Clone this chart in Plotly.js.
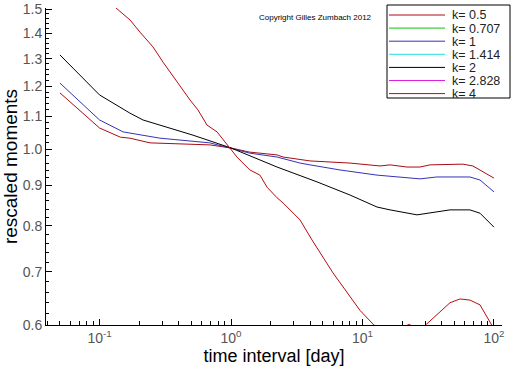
<!DOCTYPE html>
<html>
<head>
<meta charset="utf-8">
<script src="https://cdn.plot.ly/plotly-3.0.1.min.js"></script>
<style>html,body{margin:0;padding:0;background:#fff;}#chart{width:512px;height:366px;}</style>
</head>
<body>
<div id="chart"></div>
<script>
// ---- data ----
const seriesNames = ["k=0.5", "k=0.707", "k=1", "k=1.414", "k=2", "k=2.828", "k=4"];
const seriesColors = ["#a80c14", "#10c010", "#3333b8", "#20e0e0", "#000000", "#e020e0", "#b80c10"];

const t_k05 = [0.05, 0.1, 0.144, 0.17, 0.242, 0.514, 0.69, 1, 1.39, 2.24, 2.49, 3.99, 8.03, 13.6, 16.2, 21.8, 27.4, 32.6, 57.9, 69.1, 100];
const m_k05 = [1.177, 1.063, 1.035, 1.032, 1.018, 1.015, 1.012, 1.003, 0.991, 0.983, 0.977, 0.966, 0.960, 0.952, 0.955, 0.949, 0.949, 0.955, 0.957, 0.952, 0.919];

const t_k0707 = [];
const m_k0707 = [];

const t_k1 = [0.05, 0.1, 0.151, 0.288, 0.69, 1, 1.39, 2.24, 3.35, 3.99, 6.74, 12.9, 27.4, 36.7, 65.6, 78.3, 100];
const m_k1 = [1.211, 1.088, 1.051, 1.032, 1.018, 1.003, 0.988, 0.977, 0.960, 0.955, 0.941, 0.927, 0.917, 0.922, 0.922, 0.914, 0.883];

const t_k1414 = [];
const m_k1414 = [];

const t_k2 = [0.05, 0.1, 0.17, 0.214, 0.514, 1, 2.24, 4.51, 8.03, 12.9, 16.2, 26, 46.3, 65.6, 78.3, 100];
const m_k2 = [1.314, 1.170, 1.110, 1.088, 1.041, 1.003, 0.949, 0.909, 0.875, 0.845, 0.838, 0.826, 0.838, 0.838, 0.830, 0.797];

const t_k2828 = [];
const m_k2828 = [];

const t_k4 = [0.05, 0.1, 0.131, 0.171, 0.203, 0.255, 0.304, 0.356, 0.41, 0.488, 0.561, 0.657, 0.783, 0.932, 1.11, 1.39, 1.66, 1.88, 2.24, 2.49, 3.35, 4.13, 5.96, 9.57, 12.2, 16, 22.6, 27, 30.9, 46.3, 55.1, 65.6, 78.3, 96, 100];
const m_k4 = [1.9, 1.62, 1.51, 1.454, 1.404, 1.345, 1.287, 1.240, 1.197, 1.153, 1.120, 1.072, 1.051, 1.012, 0.977, 0.941, 0.927, 0.895, 0.868, 0.855, 0.814, 0.768, 0.698, 0.626, 0.600, 0.585, 0.601, 0.592, 0.602, 0.640, 0.647, 0.645, 0.636, 0.600, 0.595];

const xTickVals = [0.1, 1, 10, 100];
const xTickText = ["10<sup>-1</sup>", "10<sup>0</sup>", "10<sup>1</sup>", "10<sup>2</sup>"];
const yTickVals = [0.6, 0.7, 0.8, 0.9, 1.0, 1.1, 1.2, 1.3, 1.4, 1.5];
const yTickText = ["0.6", "0.7", "0.8", "0.9", "1.0", "1.1", "1.2", "1.3", "1.4", "1.5"];

const xs = [t_k05, t_k0707, t_k1, t_k1414, t_k2, t_k2828, t_k4];
const ys = [m_k05, m_k0707, m_k1, m_k1414, m_k2, m_k2828, m_k4];

// ---- build ----
const traces = seriesNames.map((n, i) => ({
  x: xs[i], y: ys[i], name: n, type: "scatter", mode: "lines",
  line: {color: seriesColors[i], width: 1}, showlegend: false, cliponaxis: true
}));

// minor ticks
const xMinor = [];
for (let d = -2; d <= 2; d++) for (let m = 2; m <= 9; m++) xMinor.push(m * Math.pow(10, d));
const yMinor = [];
for (let v = 0.52; v < 1.6; v += 0.02) { const r = Math.round(v * 100) / 100; if (Math.round(r * 100) % 10 !== 0) yMinor.push(r); }

// plot area in pixels
const W = 512, H = 366, L = 46, R = 10, T = 8, B = 41;
const pw = W - L - R, ph = H - T - B;
const px = x => (x - L) / pw;
const py = y => (H - B - y) / ph;

const shapes = [{type: "rect", xref: "paper", yref: "paper", x0: px(387), x1: px(510), y0: py(5), y1: py(98),
  line: {color: "#000", width: 1}, fillcolor: "rgba(0,0,0,0)"}];
const annotations = [];
seriesNames.forEach((n, i) => {
  const yy = 15 + i * 13.1;
  shapes.push({type: "line", xref: "paper", yref: "paper", x0: px(389), x1: px(445), y0: py(yy), y1: py(yy),
    line: {color: seriesColors[i], width: 1}});
  annotations.push({xref: "paper", yref: "paper", x: px(451), y: py(yy), xanchor: "left", yanchor: "middle",
    text: n.replace("=", "= "), showarrow: false, height: 13, borderpad: 0, valign: "middle",
    font: {family: "Liberation Sans, Arial", size: 12.5, color: "#222"}});
});
annotations.push({xref: "paper", yref: "paper", x: px(257), y: py(17), xanchor: "left", yanchor: "middle",
  text: "Copyright Gilles Zumbach 2012", showarrow: false, font: {family: "Liberation Sans, Arial", size: 8, color: "#000"}});

const layout = {
  width: W, height: H,
  margin: {l: L, r: R, t: T, b: B, pad: 0},
  paper_bgcolor: "#fff", plot_bgcolor: "#fff",
  showlegend: false,
  font: {family: "Liberation Sans, Arial", color: "#000"},
  xaxis: {
    type: "log", range: [-1.407, 2.061], autorange: false,
    tickmode: "array", tickvals: xTickVals, ticktext: xTickText,
    ticks: "inside", ticklen: 6, tickcolor: "#000", tickwidth: 1,
    minor: {tickmode: "array", tickvals: xMinor, ticks: "inside", ticklen: 4, tickcolor: "#000", tickwidth: 1, showgrid: false},
    showgrid: false, zeroline: false, showline: true, linecolor: "#000", linewidth: 1, mirror: false,
    tickfont: {family: "Liberation Sans, Arial", size: 14, color: "#555"},
    title: {text: "time interval [day]", font: {family: "Liberation Sans, Arial", size: 18, color: "#000"}, standoff: 4},
    automargin: false
  },
  yaxis: {
    type: "log", range: [-0.2219, 0.1778], autorange: false,
    tickmode: "array", tickvals: yTickVals, ticktext: yTickText,
    ticks: "inside", ticklen: 6, tickcolor: "#000", tickwidth: 1,
    minor: {tickmode: "array", tickvals: yMinor, ticks: "inside", ticklen: 3, tickcolor: "#000", tickwidth: 1, showgrid: false},
    showgrid: false, zeroline: false, showline: true, linecolor: "#000", linewidth: 1, mirror: false,
    tickfont: {family: "Liberation Sans, Arial", size: 14, color: "#555"},
    title: {text: "rescaled moments", font: {family: "Liberation Sans, Arial", size: 19, color: "#000"}, standoff: 2},
    automargin: false
  },
  shapes: shapes,
  annotations: annotations
};

Plotly.newPlot("chart", traces, layout, {displayModeBar: false, staticPlot: true});
</script>
</body>
</html>
